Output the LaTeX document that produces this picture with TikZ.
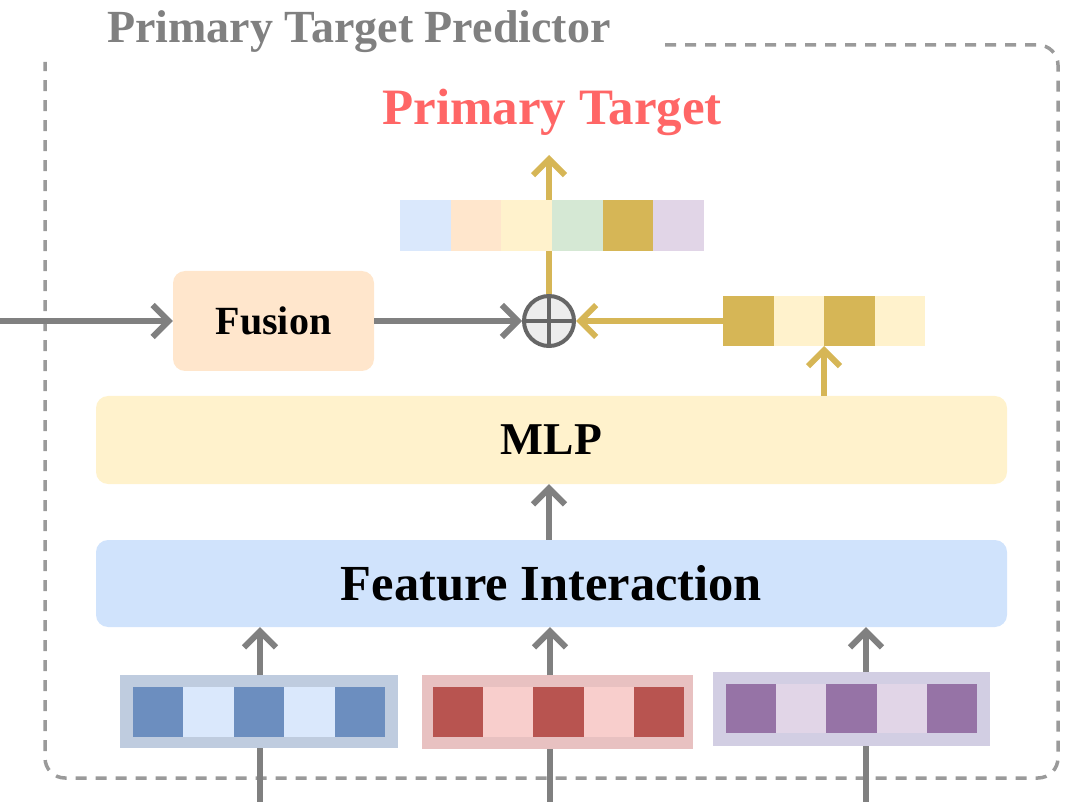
\documentclass[tikz,border=0pt]{standalone}
\usepackage{fontspec}
\setmainfont{Liberation Serif}
\usetikzlibrary{arrows.meta}
\definecolor{arrgray}{HTML}{808080}
\definecolor{gold}{HTML}{D6B656}
\definecolor{framegray}{HTML}{9A9A9A}
\definecolor{titlegray}{HTML}{808080}
\definecolor{tred}{HTML}{FF6666}
\definecolor{cblueL}{HTML}{DAE8FC}
\definecolor{cblueD}{HTML}{6C8EBF}
\definecolor{cblueO}{HTML}{BFCCDF}
\definecolor{credL}{HTML}{F8CECC}
\definecolor{credD}{HTML}{B85450}
\definecolor{credO}{HTML}{E8C1C1}
\definecolor{cpurL}{HTML}{E1D5E7}
\definecolor{cpurD}{HTML}{9673A6}
\definecolor{cpurO}{HTML}{D2CEE3}
\definecolor{corange}{HTML}{FFE6CC}
\definecolor{cyellow}{HTML}{FFF2CC}
\definecolor{cgreen}{HTML}{D5E8D4}
\definecolor{cfi}{HTML}{D0E3FC}
\begin{document}
\begin{tikzpicture}[x=1pt,y=-1pt,
  tipstyle/.style={-{Straight Barb[length=16pt,width=32pt,line width=6pt]}},
  garrow/.style={draw=arrgray,line width=6pt,tipstyle},
  gline/.style={draw=arrgray,line width=6pt},
  yarrow/.style={draw=gold,line width=6pt,tipstyle},
  yline/.style={draw=gold,line width=6pt},
  blk/.style={rounded corners=12pt,inner sep=0pt,font=\bfseries},
  vec/.style={inner sep=0pt,outer sep=0pt},
]
\useasboundingbox (0,0) rectangle (1080,802);
% dashed frame
\draw[framegray,line width=3.5pt,dash pattern=on 11pt off 9pt,rounded corners=20pt]
  (665,45) -- (1058,45) -- (1058,778) -- (45,778) -- (45,62);
\node[text=titlegray,font=\bfseries\fontsize{46}{46}\selectfont,anchor=base west,inner sep=0] (ttl) at (107,43) {Primary Target Predictor};

% primary target label
\node[text=tred,font=\bfseries\fontsize{51}{51}\selectfont,inner sep=0] (pt) at (552,112) {Primary Target};
\coordinate (ptin) at (549,155);

% output vector
\node[vec,minimum width=304pt,minimum height=51pt] (outv) at (552,225.5) {};
\foreach \c [count=\i from 0] in {cblueL,corange,cyellow,cgreen,gold,cpurL}
  \fill[\c] (400+\i*50.67,200) rectangle (400+\i*50.67+50.67,251);

% plus circle
\node[circle,draw=black!60,fill=black!7,line width=4pt,minimum size=50pt,inner sep=0] (plus) at (549,321) {};
\draw[black!60,line width=4pt] (plus.north) -- (plus.south) (plus.west) -- (plus.east);

% fusion
\node[blk,fill=corange,minimum width=201pt,minimum height=100pt,font=\bfseries\fontsize{40}{40}\selectfont] (fus) at (273.5,321) {Fusion};
\coordinate (lin) at (0,321);

% gold vector
\node[vec,minimum width=202pt,minimum height=50pt] (gv) at (824,321) {};
\foreach \c [count=\i from 0] in {gold,cyellow,gold,cyellow}
  \fill[\c] (723+\i*50.5,296) rectangle (723+\i*50.5+50.5,346);

% MLP
\node[blk,fill=cyellow,minimum width=911pt,minimum height=88pt,font=\bfseries\fontsize{45.5}{45.5}\selectfont] (mlp) at (551.5,440) {MLP};
% Feature interaction
\node[blk,fill=cfi,minimum width=911pt,minimum height=87pt,font=\bfseries\fontsize{50.5}{50.5}\selectfont] (fi) at (551.5,583.5) {Feature Interaction};

% input vectors
\node[vec,fill=cblueO,minimum width=278pt,minimum height=73pt] (vb) at (259,711.5) {};
\foreach \i in {0,...,4}{
  \ifodd\i \fill[cblueL] (133+\i*50.4,687) rectangle ++(50.4,50);
  \else \fill[cblueD] (133+\i*50.4,687) rectangle ++(50.4,50); \fi}
\node[vec,fill=credO,minimum width=271pt,minimum height=74pt] (vr) at (557.5,712) {};
\foreach \i in {0,...,4}{
  \ifodd\i \fill[credL] (433+\i*50.2,687) rectangle ++(50.2,50);
  \else \fill[credD] (433+\i*50.2,687) rectangle ++(50.2,50); \fi}
\node[vec,fill=cpurO,minimum width=277pt,minimum height=74pt] (vp) at (851.5,709) {};
\foreach \i in {0,...,4}{
  \ifodd\i \fill[cpurL] (726+\i*50.2,684) rectangle ++(50.2,49);
  \else \fill[cpurD] (726+\i*50.2,684) rectangle ++(50.2,49); \fi}

\coordinate (bb) at (260,802);
\coordinate (br) at (550,802);
\coordinate (bp) at (866,802);

% connectors
\draw[gline] (bb) -- (bb |- vb.south);
\draw[gline] (br) -- (br |- vr.south);
\draw[gline] (bp) -- (bp |- vp.south);
\draw[garrow] (bb |- vb.north) -- (bb |- fi.south);
\draw[garrow] (br |- vr.north) -- (br |- fi.south);
\draw[garrow] (bp |- vp.north) -- (bp |- fi.south);
\draw[garrow] (fi.north -| plus) -- (mlp.south -| plus);
\draw[yarrow] (mlp.north -| gv) -- (gv.south);
\draw[yarrow] (gv.west) -- (plus.east);
\draw[garrow] (lin) -- (fus.west);
\draw[garrow] (fus.east) -- (plus.west);
\draw[yline] (plus.north) -- (plus.north |- outv.south);
\draw[yarrow] (plus.north |- outv.north) -- (ptin);
\end{tikzpicture}
\end{document}
